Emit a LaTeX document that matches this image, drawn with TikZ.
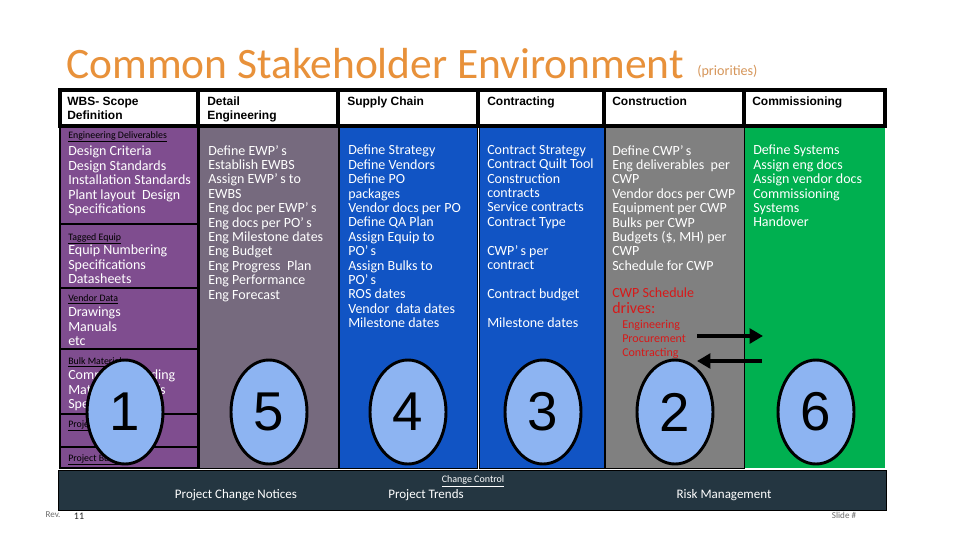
\documentclass[tikz,border=0pt]{standalone}
\usepackage{fontspec}
\setmainfont{Carlito}
\newfontfamily\hdr{Liberation Sans}
\usetikzlibrary{arrows.meta,shapes.geometric}
\definecolor{cpurple}{RGB}{127,77,143}
\definecolor{cmauve}{RGB}{118,106,126}
\definecolor{cblue}{RGB}{17,84,196}
\definecolor{cgray}{RGB}{128,128,128}
\definecolor{cgreen}{RGB}{0,176,80}
\definecolor{cnavy}{RGB}{36,54,65}
\definecolor{cell}{RGB}{141,180,242}
\definecolor{corange}{RGB}{232,145,58}
\definecolor{clorange}{RGB}{214,150,90}
\definecolor{cred}{RGB}{215,25,25}
\definecolor{cfoot}{RGB}{110,110,110}
\begin{document}
\begin{tikzpicture}[x=0.75pt,y=-0.75pt,
  hdrbox/.style={draw=black,line width=2.4pt,fill=white},
  hdrtext/.style={anchor=north west,inner sep=0pt,align=left,font=\hdr\bfseries\fontsize{9pt}{10.5pt}\selectfont},
  bodytext/.style={anchor=north west,inner sep=0pt,align=left,text=white,font=\fontsize{10.5pt}{10.8pt}\selectfont},
  tinyhead/.style={anchor=north west,inner sep=0pt,text=black,font=\fontsize{7.4pt}{8pt}\selectfont},
  redtext/.style={anchor=north west,inner sep=0pt,align=left,text=cred,font=\fontsize{9pt}{10.8pt}\selectfont},
  numell/.style={ellipse,draw=black,line width=2.2pt,fill=cell,minimum width=57pt,minimum height=78pt,inner sep=0pt,font=\hdr\fontsize{41pt}{41pt}\selectfont},
  bigarrow/.style={line width=3.6pt,-{Triangle[length=10pt,width=11pt]}},
  bartext/.style={inner sep=0pt,text=white,font=\fontsize{9.75pt}{11pt}\selectfont},
  foottext/.style={inner sep=0pt,font=\fontsize{6.8pt}{8pt}\selectfont}]
\useasboundingbox (0,0) rectangle (960,540);
\fill[white] (0,0) rectangle (960,540);

% title
\node[anchor=base west,inner sep=0pt,text=corange,font=\fontsize{32.6pt}{36pt}\selectfont] (title) at (66,78) {Common Stakeholder Environment};
\node[anchor=base west,inner sep=0pt,text=clorange,font=\fontsize{10.6pt}{12pt}\selectfont] (prio) at (697,75) {(priorities)};

% column bodies
\path[fill=cmauve,draw=black,line width=0.75pt] (199,127) rectangle (338,468);
\path[fill=cblue,draw=black,line width=0.75pt] (339,127) rectangle (477,468);
\path[fill=cblue,draw=black,line width=0.75pt] (479,127) rectangle (604,468);
\path[fill=cgray,draw=black,line width=0.75pt] (605,127) rectangle (744,468);
\path[fill=cgreen] (745,127) rectangle (885,468);
\path[fill=cpurple,draw=black,line width=1.8pt] (60,127) rectangle (198,468);
% column 1 dividers
\draw[black,line width=1.6pt] (60,224) -- (198,224);
\draw[black,line width=0.8pt] (60,288) -- (198,288);
\draw[black,line width=0.8pt] (60,349) -- (198,349);
\draw[black,line width=0.8pt] (60,414) -- (198,414);
\draw[black,line width=1.6pt] (60,447) -- (198,447);

% headers
\path[hdrbox] (60,90) rectangle (198,126);
\path[hdrbox] (198,90) rectangle (338,126);
\path[hdrbox] (338,90) rectangle (478,126);
\path[hdrbox] (478,90) rectangle (604,126);
\path[hdrbox] (604,90) rectangle (744,126);
\path[hdrbox] (744,90) rectangle (885,126);
\node[hdrtext] (h1) at (67,97) {WBS- Scope\\Definition};
\node[hdrtext] (h2) at (207,97) {Detail\\Engineering};
\node[hdrtext] (h3) at (347,97) {Supply Chain};
\node[hdrtext] (h4) at (487,97) {Contracting};
\node[hdrtext] (h5) at (612,97) {Construction};
\node[hdrtext] (h6) at (752,97) {Commissioning};

% column 1 text
\node[tinyhead] (t1a) at (68,131) {\underline{Engineering Deliverables}};
\node[bodytext] (t1b) at (68,146) {Design Criteria\\Design Standards\\Installation Standards\\Plant layout\ \ Design\\Specifications};
\node[tinyhead] (t1c) at (68,233) {\underline{Tagged Equip}};
\node[bodytext] (t1d) at (68,245) {Equip Numbering\\Specifications\\Datasheets};
\node[tinyhead] (t1e) at (68,294) {\underline{Vendor Data}};
\node[bodytext] (t1f) at (68,307) {Drawings\\Manuals\\etc};
\node[tinyhead] (t1g) at (68,357) {\underline{Bulk Materials}};
\node[bodytext] (t1h) at (68,370) {Commodity coding\\Material Takeoffs\\Specifications};
\node[tinyhead] (t1i) at (68,420) {\underline{Project Controls}};
\node[tinyhead] (t1j) at (68,454) {\underline{Project Budget}};

% column 2 text
\node[bodytext] (t2) at (208,145) {Define EWP’\,s\\Establish EWBS\\Assign EWP’\,s to\\EWBS\\Eng doc per EWP’\,s\\Eng docs per PO’\,s\\Eng Milestone dates\\Eng Budget\\Eng Progress\ \ Plan\\Eng Performance\\Eng Forecast};
% column 3 text
\node[bodytext] (t3) at (348,145) {Define Strategy\\Define Vendors\\Define PO\\packages\\Vendor docs per PO\\Define QA Plan\\Assign Equip to\\PO’\,s\\Assign Bulks to\\PO’\,s\\ROS dates\\Vendor\ \ data dates\\Milestone dates};
% column 4 text
\node[bodytext] (t4) at (487,145) {Contract Strategy\\Contract Quilt Tool\\Construction\\contracts\\Service contracts\\Contract Type\\\mbox{}\\CWP’\,s per\\contract\\\mbox{}\\Contract budget\\\mbox{}\\Milestone dates};
% column 5 text
\node[bodytext] (t5) at (612,145) {Define CWP’\,s\\Eng deliverables\ \ per\\CWP\\Vendor docs per CWP\\Equipment per CWP\\Bulks per CWP\\Budgets (\$, MH) per\\CWP\\Schedule for CWP};
\node[bodytext,text=cred] (t5a) at (612,288) {CWP Schedule};
\node[bodytext,text=cred,font=\fontsize{12pt}{13pt}\selectfont] (t5b) at (612,302) {drives:};
\node[redtext] (t5c) at (622,319.5) {Engineering\\Procurement\\Contracting};
% column 6 text
\node[bodytext] (t6) at (753,145) {Define Systems\\Assign eng docs\\Assign vendor docs\\Commissioning\\Systems\\Handover};

% arrows
\coordinate (ra1) at (697,336);
\coordinate (ra2) at (763,336);
\coordinate (la1) at (762,361);
\coordinate (la2) at (697,361);
\draw[bigarrow] (ra1) -- (ra2);
\draw[bigarrow] (la1) -- (la2);

% numbered ellipses
\node[numell] (e1) at (125,412) {1};
\node[numell] (e5) at (269,412) {5};
\node[numell] (e4) at (408,412) {4};
\node[numell] (e3) at (543,412) {3};
\node[numell] (e2) at (675,412) {2};
\node[numell] (e6) at (816,412) {6};

% bottom bar
\path[fill=cnavy,draw=black,line width=0.75pt] (58,470) rectangle (886,510);
\node[bartext,font=\fontsize{7.5pt}{9pt}\selectfont] (cc) at (473,481) {\underline{Change Control}};
\node[bartext] (pcn) at (236,495) {Project Change Notices};
\node[bartext] (pt) at (426,495) {Project Trends};
\node[bartext] (rm) at (724,495) {Risk Management};

% footer
\node[foottext,text=cfoot] (rev) at (53,515) {Rev.};
\node[foottext,text=black!85,font=\fontsize{7.5pt}{9pt}\selectfont] (revno) at (79,516) {11};
\node[foottext,text=cfoot] (slide) at (844,515) {Slide \#};
\end{tikzpicture}
\end{document}
